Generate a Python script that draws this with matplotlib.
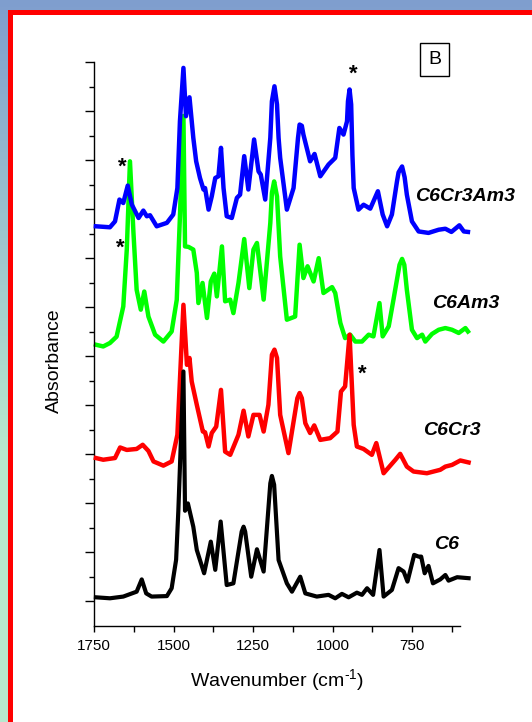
import numpy as np
import matplotlib.pyplot as plt
from matplotlib.patches import Rectangle

plt.rcParams['font.family'] = ['Liberation Sans', 'DejaVu Sans']
plt.rcParams['mathtext.fontset'] = 'custom'
plt.rcParams['mathtext.rm'] = 'Liberation Sans'
plt.rcParams['mathtext.it'] = 'Liberation Sans:italic'
plt.rcParams['mathtext.bf'] = 'Liberation Sans:bold'

# spectra, already stacked (offset units of the y axis)
c6cr3am3_wn = [1744, 1700, 1684, 1670, 1658, 1644, 1631, 1610, 1595, 1584, 1574, 1553, 1521, 1501, 1488, 1480,
               1469, 1461, 1450, 1438, 1429, 1417, 1406, 1401, 1390, 1380, 1369, 1359, 1351, 1343, 1333, 1317,
               1301, 1291, 1278, 1265, 1247, 1233, 1226, 1212, 1196, 1191, 1183, 1175, 1170, 1165, 1144, 1123,
               1109, 1104, 1097, 1092, 1071, 1057, 1039, 1013, 992, 979, 966, 955, 952, 947, 942, 938, 934, 919,
               903, 882, 858, 843, 829, 814, 798, 793, 782, 774, 767, 751, 730, 699, 667, 646, 627, 602, 588, 575]
c6cr3am3_abs = [15.3, 15.26, 15.5, 16.39, 16.25, 16.96, 16.18, 15.64, 15.94, 15.71, 15.75, 15.3, 15.44, 15.78, 16.86,
                19.58, 21.76, 19.79, 20.56, 18.91, 17.95, 17.27, 16.8, 16.86, 15.98, 16.52, 17.27, 17.34, 18.5, 16.86,
                15.71, 15.64, 16.46, 16.59, 18.16, 16.8, 18.84, 17.54, 17.41, 16.39, 18.91, 20.4, 21.01, 20.27, 18.9,
                18.09, 15.98, 16.86, 18.9, 19.45, 19.4, 19.04, 17.95, 18.25, 17.34, 17.82, 18.09, 19.31, 19.04, 19.58,
                20.4, 20.88, 20.27, 18.2, 16.86, 15.98, 16.18, 16.02, 16.73, 15.78, 15.3, 15.78, 17.13, 17.5, 17.74,
                17.3, 16.59, 15.5, 15.09, 15.03, 15.16, 15.2, 15.07, 15.34, 15.09, 15.07]

c6am3_wn = [1744, 1721, 1700, 1679, 1658, 1647, 1637, 1626, 1616, 1603, 1592, 1579, 1558, 1532, 1506, 1490, 1480,
            1469, 1464, 1453, 1438, 1427, 1422, 1409, 1395, 1383, 1372, 1364, 1348, 1338, 1322, 1312, 1296, 1278,
            1262, 1249, 1238, 1217, 1196, 1191, 1184, 1175, 1165, 1144, 1118, 1104, 1092, 1079, 1060, 1044, 1029,
            1002, 992, 976, 961, 945, 929, 908, 887, 872, 853, 843, 824, 809, 790, 782, 775, 767, 751, 735, 719,
            709, 688, 667, 646, 625, 604, 583, 575]
c6am3_abs = [10.47, 10.4, 10.54, 10.8, 12.03, 14.35, 17.95, 15.03, 12.71, 11.9, 12.64, 11.62, 10.88, 10.6, 11.01,
             12.3, 15.7, 19.8, 14.48, 14.46, 14.35, 13.4, 12.17, 12.99, 11.56, 13.05, 13.37, 12.44, 14.48, 12.24,
             12.31, 11.76, 12.99, 14.78, 12.78, 14.35, 14.62, 12.31, 15.44, 16.66, 17.13, 16.52, 14.07, 11.49, 11.62,
             14.55, 13.19, 13.67, 13.05, 14.0, 12.58, 12.82, 12.58, 11.36, 10.74, 10.88, 10.6, 10.6, 10.88, 10.81,
             12.17, 10.81, 11.22, 12.31, 13.73, 13.97, 13.73, 12.71, 11.08, 10.74, 10.88, 10.6, 10.91, 11.08, 11.15,
             11.08, 10.95, 11.15, 11.01]

c6cr3_wn = [1744, 1721, 1684, 1668, 1647, 1616, 1597, 1579, 1563, 1532, 1506, 1488, 1469, 1458, 1450, 1443, 1427,
            1408, 1401, 1390, 1380, 1366, 1351, 1338, 1322, 1296, 1280, 1265, 1249, 1230, 1217, 1202, 1191, 1183,
            1175, 1165, 1139, 1111, 1104, 1097, 1086, 1071, 1058, 1039, 1008, 985, 974, 961, 947, 934, 924, 903,
            877, 863, 840, 803, 788, 767, 746, 704, 662, 646, 625, 599, 573]
c6cr3_abs = [5.85, 5.78, 5.85, 6.28, 6.18, 6.22, 6.39, 6.14, 5.71, 5.54, 5.71, 6.8, 12.1, 9.65, 9.93, 8.97, 8.02,
             6.93, 6.9, 6.32, 6.87, 7.13, 8.63, 6.11, 5.98, 6.8, 7.78, 6.73, 7.61, 7.61, 6.93, 8.02, 10.06, 10.27,
             9.93, 7.61, 6.05, 8.29, 8.5, 8.29, 7.27, 6.87, 7.18, 6.59, 6.66, 6.93, 8.56, 8.77, 10.88, 7.2, 6.32,
             6.22, 5.98, 6.46, 5.23, 5.78, 6.02, 5.5, 5.3, 5.23, 5.37, 5.5, 5.57, 5.75, 5.67]

c6_wn = [1744, 1700, 1658, 1616, 1600, 1586, 1569, 1521, 1506, 1492, 1485, 1469, 1464, 1455, 1438, 1427, 1404,
         1383, 1369, 1352, 1333, 1312, 1286, 1280, 1275, 1256, 1238, 1217, 1196, 1191, 1184, 1170, 1144, 1128,
         1102, 1086, 1050, 1013, 992, 971, 950, 924, 908, 892, 873, 853, 840, 814, 793, 777, 765, 744, 730, 722,
         711, 699, 685, 662, 646, 636, 609, 573]
c6_abs = [0.17, 0.13, 0.2, 0.4, 0.9, 0.33, 0.2, 0.22, 0.54, 1.7, 3.7, 9.38, 3.7, 4.0, 3.05, 2.1, 1.15, 2.44, 1.29,
          3.26, 0.67, 0.74, 2.85, 3.05, 2.85, 1.01, 2.13, 1.22, 4.82, 5.12, 4.76, 1.69, 0.74, 0.4, 1.01, 0.33, 0.2,
          0.27, 0.13, 0.31, 0.17, 0.36, 0.27, 0.54, 0.27, 2.1, 0.2, 0.47, 1.36, 1.22, 0.81, 1.9, 1.83, 1.83, 1.15,
          1.45, 0.74, 0.9, 1.08, 0.85, 0.99, 0.95]

names = ['C6Cr3Am3', 'C6Am3', 'C6Cr3', 'C6']
name_pos = [(740, 16.5), (688, 12.15), (715, 6.98), (681, 2.31)]
star_pos = [(1661, 17.72), (1668, 14.42), (936, 21.52), (908, 9.27)]

fig = plt.figure(figsize=(5.32, 7.22), dpi=100)

# slide-like frame around the chart
bg = fig.add_axes([0, 0, 1, 1])
bg.set_xlim(0, 532)
bg.set_ylim(722, 0)
bg.axis('off')
t = np.linspace(0, 1, 200)[:, None]
top = np.array([0.50, 0.62, 0.81])
bot = np.array([0.72, 0.91, 0.81])
grad = top + (bot - top) * np.clip(t * 1.6, 0, 1)[:, :, None]
bg.imshow(grad.repeat(2, axis=1), extent=[0, 532, 722, 0], aspect='auto')
bg.add_patch(Rectangle((8, 10), 530, 720, facecolor='red', edgecolor='none'))
bg.add_patch(Rectangle((13, 15), 530, 720, facecolor='white', edgecolor='none'))
bg.add_patch(Rectangle((420, 43), 29, 33, facecolor='none', edgecolor='black', linewidth=1))
bg.text(434.5, 60, 'B', ha='center', va='center', fontsize=14)

ax = fig.add_axes([94 / 532, 96 / 722, 366 / 532, 564 / 722])
ax.set_facecolor('none')

ax.plot(c6am3_wn, c6am3_abs, color='#00ff00', lw=3.2, solid_joinstyle='round', clip_on=False, zorder=2)
ax.plot(c6cr3am3_wn, c6cr3am3_abs, color='#0000ff', lw=3.2, solid_joinstyle='round', clip_on=False, zorder=3)
ax.plot(c6cr3_wn, c6cr3_abs, color='#ff0000', lw=3.2, solid_joinstyle='round', clip_on=False, zorder=4)
ax.plot(c6_wn, c6_abs, color='black', lw=3, solid_joinstyle='round', clip_on=False, zorder=5)

for n, (x, y) in zip(names, name_pos):
    ax.text(x, y, n, fontsize=14, fontweight='bold', fontstyle='italic', ha='left', va='center')
for x, y in star_pos:
    ax.text(x, y, '*', fontsize=16, fontweight='bold', ha='center', va='center')

ax.set_xlim(1750, 600)
ax.set_ylim(-1, 22)
ax.set_xticks([1750, 1500, 1250, 1000, 750])
ax.set_xticks([1625, 1375, 1125, 875, 625], minor=True)
ax.set_yticks(range(0, 23, 2))
ax.set_yticks(range(1, 22, 2), minor=True)
ax.tick_params(axis='x', which='both', direction='out', length=4.5, width=1, labelsize=11, pad=5)
ax.tick_params(axis='y', which='major', direction='out', length=6.3, width=1, labelleft=False)
ax.tick_params(axis='y', which='minor', direction='out', length=3.4, width=1)
for s in ['top', 'right']:
    ax.spines[s].set_visible(False)
for s in ['left', 'bottom']:
    ax.spines[s].set_linewidth(1)

ax.set_xlabel(r'Wavenumber (cm$^{\text{-}1}$)', fontsize=14)
ax.xaxis.set_label_coords(0.5, -0.072)
ax.set_ylabel('Absorbance', fontsize=14)
ax.yaxis.set_label_coords(-0.085, 0.47)

fig.savefig('out.png', dpi=100)
